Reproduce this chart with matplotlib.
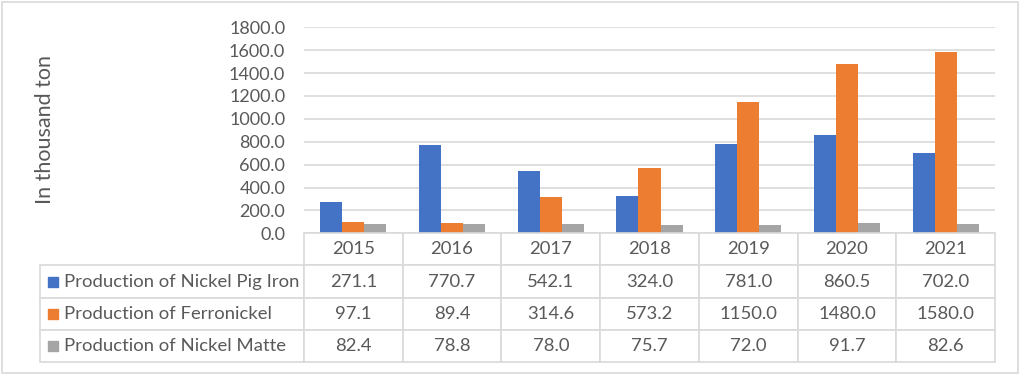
import matplotlib.pyplot as plt
import matplotlib.patches as mpatches
import numpy as np

# donnees
annees = ["2015", "2016", "2017", "2018", "2019", "2020", "2021"]
series = [
    "Production of Nickel Pig Iron",
    "Production of Ferronickel",
    "Production of Nickel Matte",
]
pig_iron = [271.1, 770.7, 542.1, 324.0, 781.0, 860.5, 702.0]
ferronickel = [97.1, 89.4, 314.6, 573.2, 1150.0, 1480.0, 1580.0]
nickel_matte = [82.4, 78.8, 78.0, 75.7, 72.0, 91.7, 82.6]
valeurs = [pig_iron, ferronickel, nickel_matte]

couleurs = ["#4472C4", "#ED7D31", "#A5A5A5"]
gris_texte = "#595959"
gris_ligne = "#D9D9D9"

plt.rcParams["font.family"] = ["Lato", "DejaVu Sans"]

W, H = 1024, 379
fig = plt.figure(figsize=(W / 100, H / 100), dpi=100)


def px(x0, y0, x1, y1):
    # rectangle en pixels (origine en haut a gauche) -> coords figure
    return [x0 / W, 1 - y1 / H, (x1 - x0) / W, (y1 - y0) / H]


# cadre exterieur
fig.patches.append(mpatches.Rectangle((2 / W, 1 - 373 / H), 1016 / W, 371 / H,
                                      transform=fig.transFigure, fill=False,
                                      edgecolor=gris_ligne, linewidth=1.2))

# zone des barres
ax = fig.add_axes(px(304, 27.3, 995, 233.3))
x = np.arange(len(annees))
larg = 0.223
for i, (vals, c) in enumerate(zip(valeurs, couleurs)):
    ax.bar(x + (i - 1) * larg, vals, width=larg, color=c, zorder=3)

ax.set_xlim(-0.5, len(annees) - 0.5)
ax.set_ylim(0, 1800)
ax.set_yticks(np.arange(0, 1801, 200))
ax.set_yticklabels([f"{v:.1f}" for v in np.arange(0, 1801, 200)])
ax.set_xticks([])
ax.tick_params(axis="y", length=0, pad=13.5, labelsize=13, labelcolor=gris_texte)
ax.grid(axis="y", color=gris_ligne, linewidth=1.2, zorder=0)
for s in ax.spines.values():
    s.set_visible(False)

fig.text(45 / W, 1 - 130 / H, "In thousand ton", rotation=90, ha="center",
         va="center", fontsize=15.5, color=gris_texte)

# tableau de donnees sous le graphique
ax_tab = fig.add_axes(px(40, 233.3, 995, 362))
ax_tab.axis("off")

cellules = [[""] + annees]
for nom, vals in zip(series, valeurs):
    cellules.append([nom] + [f"{v:.1f}" for v in vals])

larg_lab = 264 / 955
larg_col = (1 - larg_lab) / len(annees)
table = ax_tab.table(cellText=cellules, cellLoc="center",
                     colWidths=[larg_lab] + [larg_col] * len(annees),
                     bbox=[0, 0, 1, 1])
table.auto_set_font_size(False)
table.set_fontsize(13.3)
for (r, c), cell in table.get_celld().items():
    cell.set_edgecolor(gris_ligne)
    cell.set_linewidth(1.2)
    cell.get_text().set_color(gris_texte)
    if c == 0:
        cell._loc = "left"
        cell.PAD = 0.09
        cell.get_text().set_ha("left")
    if r == 0 and c == 0:
        cell.visible_edges = ""

# petits carres de couleur devant les noms de series
for i, c in enumerate(couleurs):
    yc = 1 - (i + 1.5) / 4
    ax_tab.add_patch(mpatches.Rectangle((8 / 955, yc - 5 / 128.7), 10 / 955, 10 / 128.7,
                                        transform=ax_tab.transAxes, color=c,
                                        clip_on=False))

fig.savefig("out.png", dpi=100)
